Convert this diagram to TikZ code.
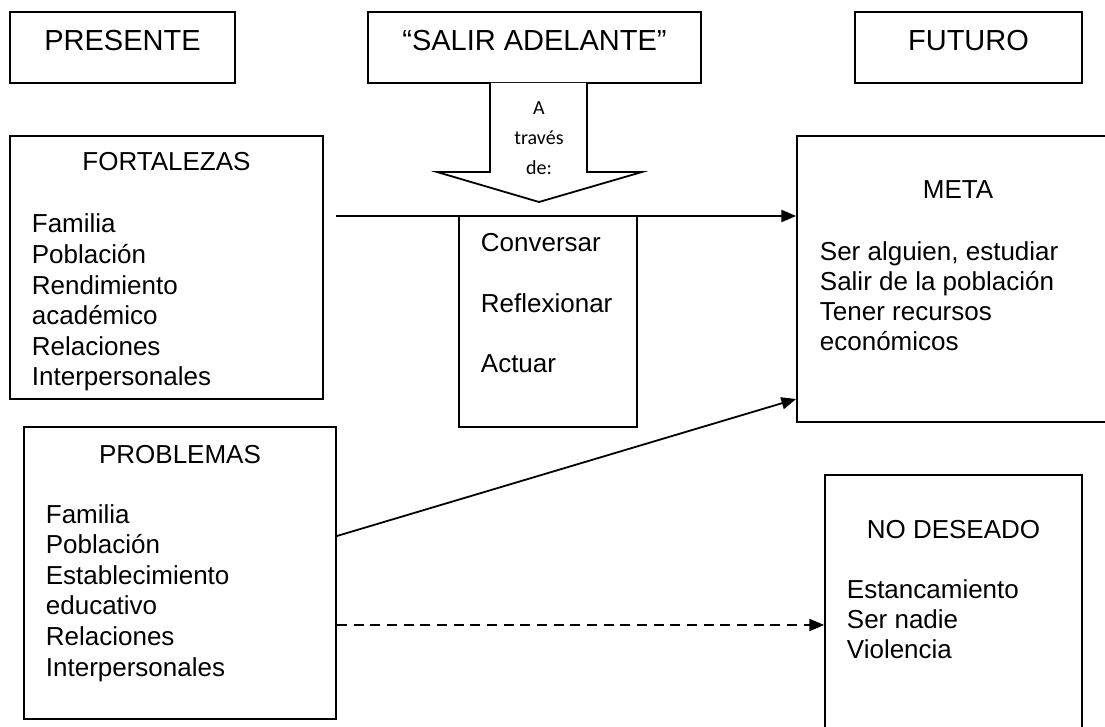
\documentclass[tikz,border=0pt]{standalone}
\usepackage{fontspec}
\setmainfont{Liberation Sans}
\newfontfamily\calibri{Carlito}
\usetikzlibrary{arrows.meta}

\begin{document}
\begin{tikzpicture}[x=0.75pt, y=-0.75pt, line width=1.35pt,
    box/.style={draw, rectangle, inner sep=0pt},
    head/.style={anchor=base, font=\fontsize{21.75}{26}\selectfont},
    title/.style={anchor=base, font=\fontsize{19.5}{23}\selectfont},
    item/.style={anchor=base west, inner sep=0pt, font=\fontsize{19.5}{23}\selectfont},
    small/.style={anchor=base, inner sep=0pt, font=\calibri\fontsize{15}{18}\selectfont},
    link/.style={-{Triangle[length=11pt,width=9pt]}}]
\useasboundingbox (0,0) rectangle (1105,727);

% top row
\node[box, minimum width=168.75pt, minimum height=53.25pt] (pres) at (122.5,47.5) {};
\node[box, minimum width=249.75pt, minimum height=53.25pt] (salir) at (534.5,47.5) {};
\node[box, minimum width=170.25pt, minimum height=53.25pt] (fut) at (968.5,47.5) {};
\node[head] (presT) at (122.5,51) {PRESENTE};
\node[head] (salirT) at (534.5,51) {“SALIR ADELANTE”};
\node[head] (futT) at (968.5,51) {FUTURO};

% big arrow
\draw[fill=white] (490,83) -- (490,172) -- (437,172) -- (539,202) -- (642,172) -- (587,172) -- (587,83);
\foreach \t [count=\i] in {A, través, de:}
    \node[small] (via-\i) at (539, 85+30*\i) {\t};

% boxes
\node[box, minimum width=234.75pt, minimum height=197.25pt] (fort) at (166.5,267.5) {};
\node[box, minimum width=133.5pt, minimum height=158.25pt] (conv) at (548,321.5) {};
\node[box, minimum width=241.5pt, minimum height=214.5pt] (meta) at (958,279) {};
\node[box, minimum width=234pt, minimum height=219pt] (prob) at (180,573) {};
\node[box, minimum width=192.75pt, minimum height=221.25pt] (nodeseado) at (953.5,622.5) {};

\node[title] (fortT) at (166.5,171) {FORTALEZAS};
\node[title] (metaT) at (958,199) {META};
\node[title] (probT) at (180,463) {PROBLEMAS};
\node[title] (nodeseadoT) at (953.5,538) {NO DESEADO};

\foreach \t [count=\i] in {Familia, Población, Rendimiento, académico, Relaciones, Interpersonales}
    \node[item] (fort-\i) at (31, 202.5+30.5*\i) {\t};
\foreach \t [count=\i] in {Conversar, Reflexionar, Actuar}
    \node[item] (conv-\i) at (480, 192+60*\i) {\t};
\foreach \t [count=\i] in {{Ser alguien, estudiar}, Salir de la población, Tener recursos, económicos}
    \node[item] (meta-\i) at (819, 229.7+30.3*\i) {\t};
\foreach \t [count=\i] in {Familia, Población, Establecimiento, educativo, Relaciones, Interpersonales}
    \node[item] (prob-\i) at (45, 492.4+30.6*\i) {\t};
\foreach \t [count=\i] in {Estancamiento, Ser nadie, Violencia}
    \node[item] (nodeseado-\i) at (846, 568+30*\i) {\t};

% connectors
\coordinate (fortOut) at (336,216);
\coordinate (probOut) at ([yshift=-39pt]prob.east);
\draw[link] (fortOut) -- (fortOut -| meta.west);
\draw[link] ([yshift=27.75pt]prob.east) -- ([yshift=-90pt]meta.west);
\draw[link, dash pattern=on 7.5pt off 5pt] (probOut) -- (probOut -| nodeseado.west);
\end{tikzpicture}
\end{document}
